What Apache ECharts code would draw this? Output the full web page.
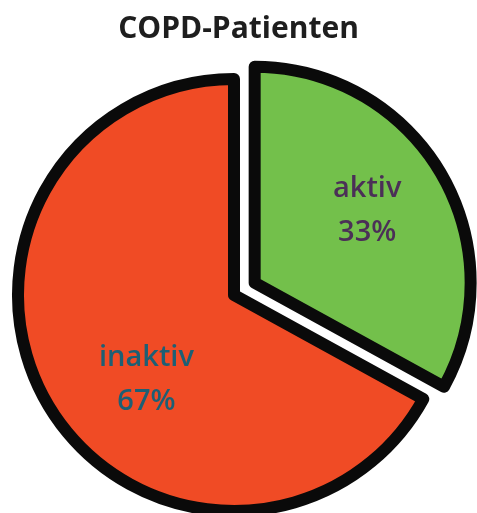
<!DOCTYPE html>
<html>
<head>
<meta charset="utf-8">
<script src="https://cdn.jsdelivr.net/npm/echarts@6/dist/echarts.min.js"></script>
<style>
html,body{margin:0;padding:0;background:#fff;}
#chart{width:477px;height:513px;}
</style>
</head>
<body>
<div id="chart"></div>
<script>
const titleText = 'COPD-Patienten';
const categories = ['aktiv', 'inaktiv'];
const values = [33, 67];
const sliceColors = ['#73c04b', '#f04b25'];
const labelColors = ['#4b2f57', '#1d5f74'];
const labelShift = [[17, -16], [8, 28]];

const chart = echarts.init(document.getElementById('chart'), null, {renderer: 'canvas'});
chart.setOption({
  animation: false,
  backgroundColor: '#ffffff',
  title: {
    text: titleText,
    left: 'center',
    top: 9,
    textStyle: {fontFamily: 'Open Sans', fontWeight: 'bold', fontSize: 30, color: '#1e1e1e'}
  },
  series: [{
    type: 'pie',
    center: [234, 295],
    radius: 216,
    startAngle: 90,
    clockwise: true,
    selectedMode: 'single',
    selectedOffset: 24,
    emphasis: {disabled: true},
    itemStyle: {borderColor: '#0a0a0a', borderWidth: 12, borderJoin: 'round'},
    label: {
      position: 'inside',
      formatter: '{b}\n{c}%',
      fontFamily: 'Open Sans',
      fontWeight: 600,
      fontSize: 29,
      lineHeight: 44
    },
    labelLayout: function (p) {
      return {dx: labelShift[p.dataIndex][0], dy: labelShift[p.dataIndex][1]};
    },
    labelLine: {show: false},
    data: categories.map((c, i) => ({
      name: c,
      value: values[i],
      selected: i === 0,
      itemStyle: {color: sliceColors[i]},
      label: {color: labelColors[i]}
    }))
  }]
});
</script>
</body>
</html>
